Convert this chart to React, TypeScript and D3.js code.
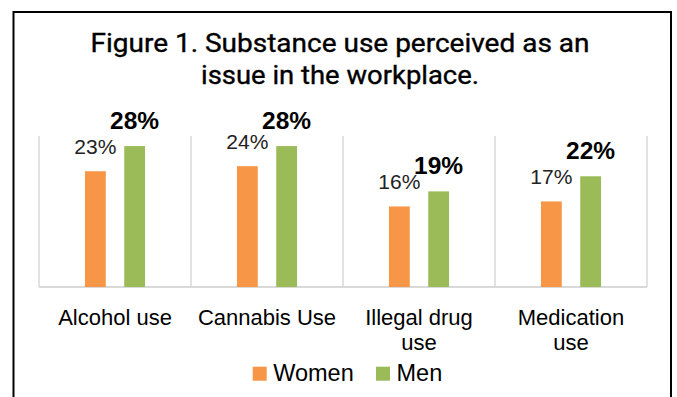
import React from "react";
import * as d3 from "d3";

const categories: string[][] = [
  ["Alcohol use"],
  ["Cannabis Use"],
  ["Illegal drug", "use"],
  ["Medication", "use"],
];
const seriesNames = ["Women", "Men"];
const women = [23, 24, 16, 17];
const men = [28, 28, 19, 22];
const titleLines = ["Figure 1. Substance use perceived as an", "issue in the workplace."];
const colors = ["#F79646", "#9BBB59"];

const W = 677;
const H = 397;
const plot = { left: 39, right: 647, top: 136, bottom: 287 };
const FONT = "'Liberation Sans', Arial, sans-serif";
const TITLE_FONT = "Roboto, 'Liberation Sans', sans-serif";

export default function App() {
  const catKeys = categories.map((c) => c.join(" "));
  const x0 = d3.scaleBand<string>().domain(catKeys).range([plot.left, plot.right]).padding(0);
  const x1 = d3
    .scaleBand<string>()
    .domain(seriesNames)
    .range([0, x0.bandwidth()])
    .paddingInner(0.47)
    .paddingOuter(1.17);
  const y = d3.scaleLinear().domain([0, 30]).range([plot.bottom, plot.top]);
  const values = [women, men];

  const boundaries = catKeys.map((k) => x0(k)!).concat([plot.right]);

  return (
    <svg
      width={W}
      height={H}
      style={{ position: "absolute", left: 0, top: 0, background: "#fff" }}
      fontFamily={FONT}
    >
      <rect x={0} y={0} width={W} height={H} fill="#fff" />
      {/* outer frame */}
      <path d={`M13.5,${H + 5} V12 H671 V${H + 5}`} fill="none" stroke="#000" strokeWidth={2} />

      {/* title */}
      <text x={340} y={51.5} textAnchor="middle" fontSize={25} fontFamily={TITLE_FONT} fontWeight="normal" textLength={499} lengthAdjust="spacingAndGlyphs" fill="#000" stroke="#000" strokeWidth={0.35}>
        {titleLines[0]}
      </text>
      <text x={340} y={83.5} textAnchor="middle" fontSize={25} fontFamily={TITLE_FONT} fontWeight="normal" textLength={278} lengthAdjust="spacingAndGlyphs" fill="#000" stroke="#000" strokeWidth={0.35}>
        {titleLines[1]}
      </text>

      {/* gridlines */}
      {boundaries.map((bx, i) => (
        <line key={"v" + i} x1={bx} x2={bx} y1={plot.top} y2={plot.bottom} stroke="#d9d9d9" strokeWidth={1.5} />
      ))}
      <line x1={plot.left} x2={plot.right} y1={plot.bottom} y2={plot.bottom} stroke="#d9d9d9" strokeWidth={2} />

      {/* bars */}
      {catKeys.map((k, ci) =>
        seriesNames.map((s, si) => {
          const v = values[si][ci];
          const bx = x0(k)! + x1(s)!;
          const by = y(v);
          return (
            <rect
              key={k + s}
              x={bx}
              y={by}
              width={x1.bandwidth()}
              height={y(0) - by}
              fill={colors[si]}
            />
          );
        })
      )}

      {/* data labels */}
      {catKeys.map((k, ci) =>
        seriesNames.map((s, si) => {
          const v = values[si][ci];
          const cx = x0(k)! + x1(s)! + x1.bandwidth() / 2;
          return (
            <text
              key={"l" + k + s}
              x={cx}
              y={y(v) - 17}
              textAnchor="middle"
              fontSize={si === 0 ? 21 : 24.5}
              fontWeight={si === 0 ? "normal" : "bold"}
              fill={si === 0 ? "#222" : "#000"}
            >
              {v}%
            </text>
          );
        })
      )}

      {/* category labels */}
      {categories.map((lines, ci) => (
        <text
          key={"c" + ci}
          x={x0(catKeys[ci])! + x0.bandwidth() / 2}
          y={325}
          textAnchor="middle"
          fontSize={22}
          fill="#000"
        >
          {lines.map((ln, li) => (
            <tspan key={li} x={x0(catKeys[ci])! + x0.bandwidth() / 2} dy={li === 0 ? 0 : 25}>
              {ln}
            </tspan>
          ))}
        </text>
      ))}

      {/* legend */}
      {seriesNames.map((s, si) => {
        const lx = [252.7, 376][si];
        return (
          <g key={"lg" + s}>
            <rect x={lx} y={366.7} width={14} height={14} fill={colors[si]} />
            <text x={lx + 20.5} y={380.7} fontSize={23.5} fill="#000">
              {s}
            </text>
          </g>
        );
      })}
    </svg>
  );
}
